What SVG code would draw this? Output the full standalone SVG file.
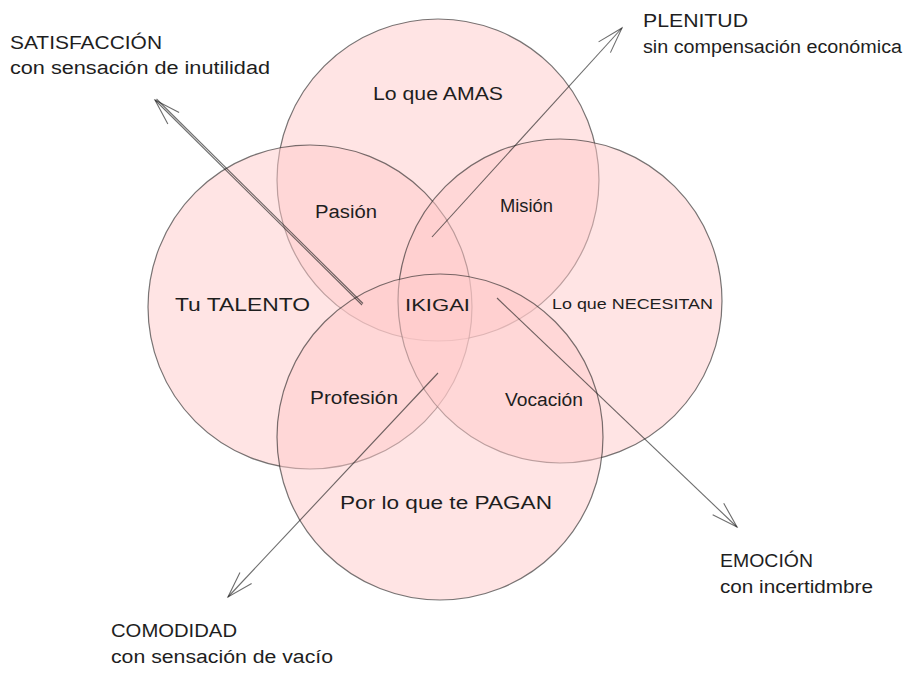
<svg xmlns="http://www.w3.org/2000/svg" width="913" height="676" viewBox="0 0 913 676">
<defs>
<style>
.c{fill:#ffc9c9;fill-opacity:0.5;stroke:#1e1e1e;stroke-opacity:0.6;stroke-width:1.2}
.a{fill:none;stroke:#1e1e1e;stroke-opacity:0.65;stroke-width:1.1}
text{font-family:"Liberation Sans","DejaVu Sans",sans-serif;fill:#1e1e1e}
.l{font-size:18px}
.s{font-size:17px}
</style>
<marker id="ah" viewBox="-30 -12 32 24" markerWidth="32" markerHeight="24" refX="0" refY="0" orient="auto" markerUnits="userSpaceOnUse">
<path d="M-26 -8 L0 0 L-26 8" fill="none" stroke="#1e1e1e" stroke-opacity="0.65" stroke-width="1.1"/>
</marker>
</defs>
<rect width="913" height="676" fill="#ffffff"/>
<g id="circle-amas"><circle class="c" cx="438" cy="180" r="161"/></g>
<g id="circle-talento"><circle class="c" cx="310" cy="307" r="162"/></g>
<g id="circle-necesitan"><circle class="c" cx="560" cy="301" r="162"/></g>
<g id="circle-pagan"><circle class="c" cx="440" cy="437" r="163"/></g>
<g id="connectors">
<line class="a" x1="362" y1="305" x2="155" y2="100" marker-end="url(#ah)"/>
<line class="a" x1="363" y1="303.5" x2="156.5" y2="99"/>
<line class="a" x1="432" y1="237" x2="622" y2="28" marker-end="url(#ah)"/>
<line class="a" x1="497" y1="298" x2="737" y2="527" marker-end="url(#ah)"/>
<line class="a" x1="438" y1="373" x2="228" y2="597" marker-end="url(#ah)"/>
</g>
<g id="label-satisfaccion">
<text class="l" x="10" y="49" textLength="152" lengthAdjust="spacingAndGlyphs">SATISFACCIÓN</text>
<text class="l" x="10" y="74" textLength="260" lengthAdjust="spacingAndGlyphs">con sensación de inutilidad</text>
</g>
<g id="label-plenitud">
<text class="l" x="643" y="27" textLength="105" lengthAdjust="spacingAndGlyphs">PLENITUD</text>
<text class="l" x="643" y="53" textLength="259" lengthAdjust="spacingAndGlyphs">sin compensación económica</text>
</g>
<g id="label-emocion">
<text class="l" x="720" y="567" textLength="93" lengthAdjust="spacingAndGlyphs">EMOCIÓN</text>
<text class="l" x="720" y="593" textLength="153" lengthAdjust="spacingAndGlyphs">con incertidmbre</text>
</g>
<g id="label-comodidad">
<text class="l" x="111" y="637" textLength="126" lengthAdjust="spacingAndGlyphs">COMODIDAD</text>
<text class="l" x="111" y="663" textLength="222" lengthAdjust="spacingAndGlyphs">con sensación de vacío</text>
</g>
<g id="node-amas"><text class="l" x="373" y="100" textLength="130" lengthAdjust="spacingAndGlyphs">Lo que AMAS</text></g>
<g id="node-pasion"><text class="l" x="315" y="218" textLength="62" lengthAdjust="spacingAndGlyphs">Pasión</text></g>
<g id="node-mision"><text class="l" x="500" y="212" textLength="53" lengthAdjust="spacingAndGlyphs">Misión</text></g>
<g id="node-talento"><text class="l" x="175" y="311" textLength="135" lengthAdjust="spacingAndGlyphs">Tu TALENTO</text></g>
<g id="node-ikigai"><text class="s" x="405" y="311" textLength="65" lengthAdjust="spacingAndGlyphs">IKIGAI</text></g>
<g id="node-necesitan"><text x="552" y="309" style="font-size:15px" textLength="161" lengthAdjust="spacingAndGlyphs">Lo que NECESITAN</text></g>
<g id="node-profesion"><text class="l" x="310" y="404" textLength="88" lengthAdjust="spacingAndGlyphs">Profesión</text></g>
<g id="node-vocacion"><text class="l" x="505" y="406" textLength="78" lengthAdjust="spacingAndGlyphs">Vocación</text></g>
<g id="node-pagan"><text class="l" x="340" y="509" textLength="212" lengthAdjust="spacingAndGlyphs">Por lo que te PAGAN</text></g>
</svg>
